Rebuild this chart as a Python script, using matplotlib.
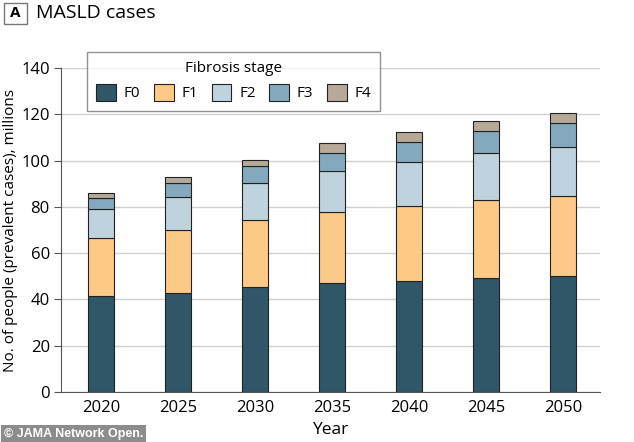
import matplotlib
matplotlib.use("Agg")
import matplotlib.pyplot as plt
import numpy as np
from matplotlib.patches import Rectangle

years = [2020, 2025, 2030, 2035, 2040, 2045, 2050]
stages = ["F0", "F1", "F2", "F3", "F4"]
# millions of prevalent cases per fibrosis stage
f0 = [41.6, 42.8, 45.4, 47.0, 48.1, 49.4, 50.3]
f1 = [24.9, 27.1, 28.8, 30.8, 32.4, 33.6, 34.4]
f2 = [12.5, 14.4, 16.0, 17.6, 19.0, 20.1, 21.0]
f3 = [4.7, 6.2, 7.5, 8.0, 8.7, 9.7, 10.4]
f4 = [2.1, 2.3, 2.7, 4.2, 4.3, 4.2, 4.5]
colors = ["#2f5767", "#fdc987", "#bfd3de", "#84a9bd", "#b6a998"]

plt.rcParams['font.family'] = ['Open Sans', 'DejaVu Sans']

fig = plt.figure(figsize=(6.34, 4.42), dpi=100)
ax = fig.add_axes([0.096, 0.113, 0.85, 0.733])

bottom = np.zeros(len(years))
for name, vals, c in zip(stages, [f0, f1, f2, f3, f4], colors):
    ax.bar(years, vals, width=1.7, bottom=bottom, color=c, edgecolor="#222222",
           linewidth=0.8, label=name, zorder=3)
    bottom += np.array(vals)

ax.set_xlim(2017.4, 2052.4)
ax.set_ylim(0, 140)
ax.set_yticks(range(0, 141, 20))
ax.set_xticks(years)
ax.yaxis.grid(True, color="#d0d0d0", linewidth=1, zorder=0)
ax.tick_params(axis="y", length=5, color="#555555", labelsize=12, pad=3)
ax.tick_params(axis="x", length=0, labelsize=12, pad=6)
for s in ["top", "right"]:
    ax.spines[s].set_visible(False)
ax.spines["left"].set_color("#555555")
ax.spines["bottom"].set_color("#555555")
ax.set_ylabel("No. of people (prevalent cases), millions", fontsize=11, labelpad=2)
ax.set_xlabel("Year", fontsize=12.5, labelpad=4)

leg = ax.legend(title="Fibrosis stage", ncol=5, loc="upper left",
                bbox_to_anchor=(0.048, 1.049), borderaxespad=0,
                fontsize=11, title_fontsize=11,
                frameon=True, fancybox=False, edgecolor="#777777",
                handlelength=1.3, handleheight=1.3, columnspacing=0.9,
                handletextpad=0.5, borderpad=0.6)
leg.get_frame().set_linewidth(1)
leg.set_zorder(5)

# panel label
fig.patches.append(Rectangle((0.006, 0.946), 0.036, 0.048, transform=fig.transFigure,
                             fill=False, edgecolor="#777777", linewidth=1))
fig.text(0.024, 0.970, "A", ha="center", va="center", fontsize=11, fontweight="bold")
fig.text(0.057, 0.970, "MASLD cases", ha="left", va="center", fontsize=14)

fig.text(0.006, 0.004, "© JAMA Network Open.", ha="left", va="bottom", fontsize=9,
         fontweight="bold", color="white", family="Liberation Sans",
         bbox=dict(facecolor="#8c8c8c", edgecolor="none", pad=2))

fig.savefig("out.png", dpi=100)
